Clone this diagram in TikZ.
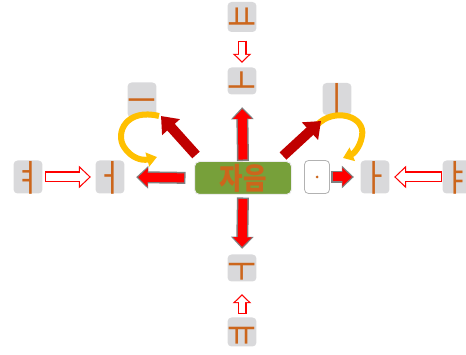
\documentclass[tikz,border=0pt]{standalone}
\usepackage{fontspec}
\newfontfamily\kr[FakeStretch=0.85]{Noto Sans CJK KR}
\usetikzlibrary{arrows.meta,calc}
\newcommand\jm[1]{\raisebox{-0.38em}[0pt][0pt]{#1}}
\definecolor{jamo}{HTML}{CC661C}
\definecolor{boxgray}{HTML}{D9D9DB}
\definecolor{green1}{HTML}{77A03A}
\definecolor{yellow1}{HTML}{FFC000}
\definecolor{dred}{HTML}{C00000}
\definecolor{agray}{HTML}{7F7F7F}
\begin{document}
\begin{tikzpicture}[x=1pt,y=-1pt,
  jbox/.style={fill=boxgray, rounded corners=4pt, minimum width=25pt, inner sep=0pt,
    font=\kr\fontsize{37}{37}\selectfont, text=jamo, text height=0pt, text depth=0pt},
  center/.style={fill=green1, draw=white!85!gray, line width=1pt, rounded corners=5pt,
    minimum width=97pt, minimum height=33pt, inner sep=0pt,
    font=\kr\bfseries\fontsize{30}{30}\selectfont, text=jamo, text height=0pt, text depth=0pt},
  dotbox/.style={fill=white, draw=gray!60, line width=0.8pt, rounded corners=4pt,
    minimum width=25pt, minimum height=33pt, inner sep=0pt, text=jamo},
  yarc/.style={yellow1, line width=6pt, -{Triangle[width=14pt,length=10pt]}},
  darrow/.style={dred, line width=10pt, -{Triangle[width=23pt,length=15pt]}},
  gout/.style={agray, line width=#1, -{Triangle[width=22pt,length=12pt]}},
  gin/.style={red, line width=#1, -{Triangle[width=18pt,length=9.5pt]}},
]
\useasboundingbox (0,0) rectangle (466,355);

% nodes
\node[center] (c) at (243,178) {\jm{자음}};
\node[jbox, minimum height=30pt] (yo) at (242,17) {\jm{ㅛ}};
\node[jbox, minimum height=27pt] (o) at (242,81) {\jm{ㅗ}};
\node[jbox, minimum height=27pt] (u) at (242,268) {\jm{ㅜ}};
\node[jbox, minimum height=29pt] (yu) at (242,332) {\jm{ㅠ}};
\node[jbox, minimum height=33pt] (eo) at (110,177) {\jm{ㅓ}};
\node[jbox, minimum height=33pt] (yeo) at (28,177) {\jm{ㅕ}};
\node[dotbox] (dot) at (317,177) {};
\fill[jamo] (dot.center) circle (1.5pt);
\node[jbox, minimum height=33pt] (a) at (375,177) {\jm{ㅏ}};
\node[jbox, minimum height=33pt] (ya) at (457,177) {\jm{ㅑ}};
\node[jbox, minimum height=35pt] (eu) at (142,100) {\jm{ㅡ}};
\node[jbox, minimum height=32pt] (i) at (337,99) {\jm{ㅣ}};

\coordinate (ulT) at (196,155);
\coordinate (ulH) at (161,116);
\coordinate (urT) at (283,156);
\coordinate (urH) at (321,121);

% yellow curved arrows
\draw[yarc] (159,116) .. controls (126,108) and (115,133) .. (124,147)
   .. controls (131,158) and (142,161) .. (157,157);
\draw[yarc] (317,125) .. controls (334,107) and (366,116) .. (362,136)
   .. controls (360,148) and (353,154) .. (343,158);

% dark red diagonal arrows
\draw[darrow] (ulT) -- (ulH);
\draw[darrow] (urT) -- (urH);

% red arrows with gray outline
\draw[gout=12pt, shorten >=12.5pt] (c.north) -- (o.south);
\draw[gin=9pt, shorten <=1.5pt, shorten >=14.5pt] (c.north) -- (o.south);
\draw[gout=12pt, shorten <=2.5pt, shorten >=5.5pt] (c.south) -- (u.north);
\draw[gin=9pt, shorten <=4pt, shorten >=7.5pt] (c.south) -- (u.north);
\draw[gout=12pt, shorten <=8.5pt, shorten >=11.5pt] (c.west) -- (eo.east);
\draw[gin=9pt, shorten <=10pt, shorten >=13.5pt] (c.west) -- (eo.east);
\draw[gout=12pt, shorten <=1.5pt, shorten >=6.5pt] (dot.east) -- (a.west);
\draw[gin=9pt, shorten <=3pt, shorten >=8.5pt] (dot.east) -- (a.west);

% hollow arrows
\draw[red, line width=9pt, -{Triangle[width=18pt,length=9pt]}, shorten <=8.5pt, shorten >=4.5pt] (yo.south) -- (o.north);
\draw[white, line width=6.6pt, -{Triangle[width=12.4pt,length=6.2pt]}, shorten <=9.7pt, shorten >=6.2pt] (yo.south) -- (o.north);

\draw[red, line width=9pt, -{Triangle[width=18pt,length=9pt]}, shorten <=3.5pt, shorten >=12.5pt] (yu.north) -- (u.south);
\draw[white, line width=6.6pt, -{Triangle[width=12.4pt,length=6.2pt]}, shorten <=4.7pt, shorten >=14.2pt] (yu.north) -- (u.south);

\draw[red, line width=11pt, -{Triangle[width=22pt,length=12pt]}, shorten <=2.5pt, shorten >=4.5pt] (yeo.east) -- (eo.west);
\draw[white, line width=8.6pt, -{Triangle[width=16.4pt,length=9pt]}, shorten <=3.7pt, shorten >=6.2pt] (yeo.east) -- (eo.west);

\draw[red, line width=11pt, -{Triangle[width=22pt,length=12pt]}, shorten <=0.5pt, shorten >=4.5pt] (ya.west) -- (a.east);
\draw[white, line width=8.6pt, -{Triangle[width=16.4pt,length=9pt]}, shorten <=1.7pt, shorten >=6.2pt] (ya.west) -- (a.east);
\end{tikzpicture}
\end{document}
